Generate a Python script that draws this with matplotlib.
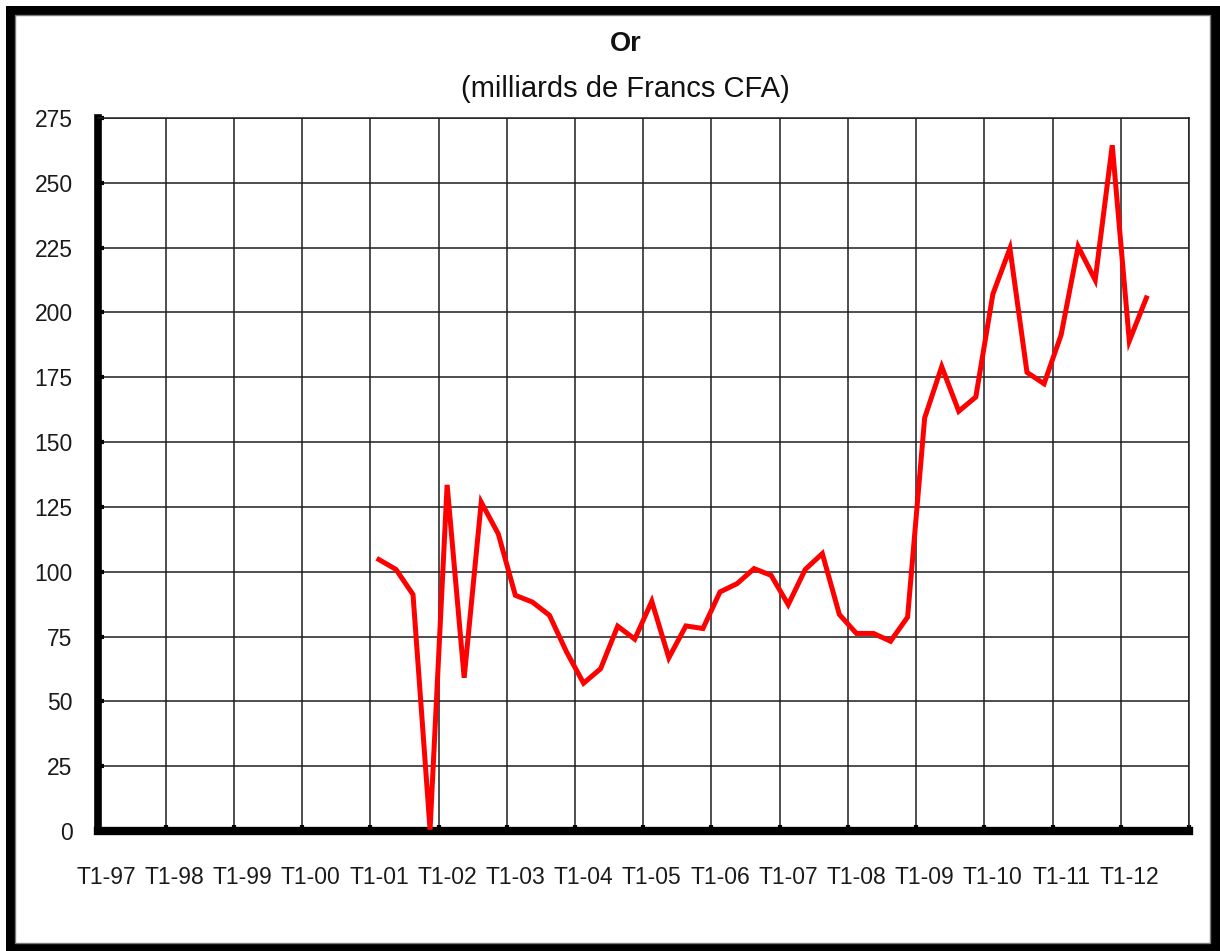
import matplotlib
matplotlib.use("Agg")
import matplotlib.pyplot as plt
from matplotlib.patches import Rectangle
from matplotlib.ticker import FixedLocator, NullFormatter, FixedFormatter
import numpy as np

# Quarterly categories T1-97 .. T4-12
years = ["97", "98", "99", "00", "01", "02", "03", "04",
         "05", "06", "07", "08", "09", "10", "11", "12"]
quarters = [f"T{q}-{y}" for y in years for q in range(1, 5)]
year_labels = [f"T1-{y}" for y in years]

# Gold holdings (milliards de Francs CFA), from T1-01 to T2-12
first_quarter = "T1-01"
or_values = [
    104.7, 100.9, 91.2, 0.5,
    133.5, 59.1, 126.8, 114.6,
    90.9, 88.3, 83.2, 69.1,
    57.0, 62.6, 79.0, 74.0,
    88.6, 66.8, 79.1, 78.1,
    92.2, 95.4, 101.2, 98.6,
    87.3, 100.9, 107.0, 83.5,
    76.2, 76.2, 73.2, 82.5,
    159.3, 179.1, 161.9, 167.4,
    207.1, 224.7, 176.9, 172.5,
    191.3, 225.4, 212.5, 264.5,
    189.0, 205.6,
]

y_ticks = list(range(0, 276, 25))

W, H = 1220, 951
fig = plt.figure(figsize=(W / 100, H / 100), dpi=100)
fig.patch.set_facecolor("white")

# Double frame around the chart area
fig.patches.append(Rectangle((6 / W, 0), (W - 6) / W, (H - 6) / H,
                             facecolor="black", edgecolor="none",
                             transform=fig.transFigure, zorder=-10))
fig.patches.append(Rectangle((15 / W, (H - 943) / H), (1210 - 15) / W, (943 - 15) / H,
                             facecolor="white", edgecolor="#7a7a7a", linewidth=1.0,
                             transform=fig.transFigure, zorder=-9))

ax_left, ax_right = 97.5, 1189.0
ax_top, ax_bottom = 118.0, 831.0
ax = fig.add_axes([ax_left / W, 1 - ax_bottom / H,
                   (ax_right - ax_left) / W, (ax_bottom - ax_top) / H])
ax.set_facecolor("white")

n = len(quarters)
start = quarters.index(first_quarter)
xs = np.arange(start, start + len(or_values)) + 0.5
ax.plot(xs, or_values, color="#ff0000", linewidth=3.6, solid_joinstyle="miter",
        zorder=5, clip_on=False)

ax.set_xlim(0, n)
ax.set_ylim(0, 275)

font = ["Liberation Sans", "DejaVu Sans"]

# Year gridlines at every fourth category boundary; labels centred on T1 categories
ax.xaxis.set_major_locator(FixedLocator(np.arange(0, n + 1, 4)))
ax.xaxis.set_major_formatter(NullFormatter())
ax.xaxis.set_minor_locator(FixedLocator(np.arange(0, n, 4) + 0.5))
ax.xaxis.set_minor_formatter(FixedFormatter(year_labels))
ax.tick_params(axis="x", which="major", direction="in", length=4, width=3,
               color="black")
ax.tick_params(axis="x", which="minor", length=0, pad=25, labelsize=16.5,
               labelcolor="#1a1a1a")
for lab in ax.get_xticklabels(minor=True):
    lab.set_family(font)

ax.set_yticks(y_ticks)
ax.tick_params(axis="y", direction="in", length=4, width=3, color="black",
               pad=18, labelsize=16.5, labelcolor="#1a1a1a")
for lab in ax.get_yticklabels():
    lab.set_family(font)

ax.grid(True, which="major", color="#1e1e1e", linewidth=1.1)
ax.set_axisbelow(True)

for side in ("top", "right"):
    ax.spines[side].set_color("#1e1e1e")
    ax.spines[side].set_linewidth(1.1)
ax.spines["left"].set_linewidth(5.5)
ax.spines["bottom"].set_linewidth(6.0)
ax.spines["left"].set_capstyle("projecting")
ax.spines["bottom"].set_capstyle("projecting")

fig.text(626 / W, 1 - 44 / H, "Or", ha="center", va="center",
         fontsize=19.5, fontweight="bold", family=font, color="#111111")
fig.text(625 / W, 1 - 89 / H, "(milliards de Francs CFA)", ha="center", va="center",
         fontsize=21, family=font, color="#111111")

fig.savefig("out.png", dpi=100, facecolor=fig.get_facecolor())
